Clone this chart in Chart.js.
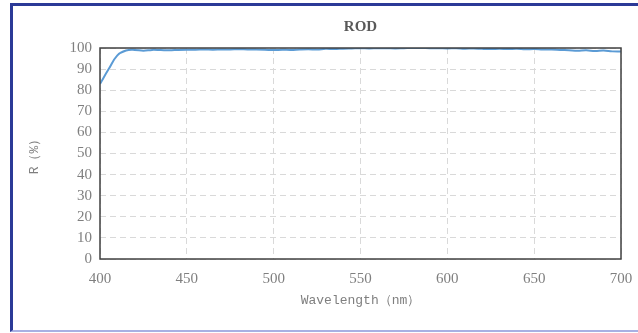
<!DOCTYPE html>
<html>
<head>
<meta charset="utf-8">
<script src="https://cdn.jsdelivr.net/npm/chart.js@4.4.0/dist/chart.umd.min.js"></script>
<style>
  html, body { margin: 0; padding: 0; background: #fff; }
  #wrap { position: relative; width: 638px; height: 333px; }
  #frame {
    position: absolute; left: 10px; top: 3px; right: 0; bottom: 1px;
    border-top: 3px solid #2b3a97; border-left: 3px solid #2b3a97;
    border-bottom: 2px solid #a9b0e3; pointer-events: none;
  }
</style>
</head>
<body>
<div id="wrap">
  <canvas id="myChart" width="638" height="333"></canvas>
  <div id="frame"></div>
</div>
<script>
// wavelength (nm) every 5 nm
const wavelengths = [
  400, 405, 410, 415, 420, 425, 430, 435, 440, 445,
  450, 455, 460, 465, 470, 475, 480, 485, 490, 495,
  500, 505, 510, 515, 520, 525, 530, 535, 540, 545,
  550, 555, 560, 565, 570, 575, 580, 585, 590, 595,
  600, 605, 610, 615, 620, 625, 630, 635, 640, 645,
  650, 655, 660, 665, 670, 675, 680, 685, 690, 695, 700
];
// reflectance R (%)
const reflectance = [
  83.0, 90.0, 96.5, 98.8, 99.1, 98.7, 99.1, 99.0, 98.9, 99.1,
  99.2, 99.2, 99.3, 99.2, 99.3, 99.3, 99.4, 99.3, 99.3, 99.2,
  99.0, 99.2, 99.1, 99.3, 99.4, 99.3, 99.6, 99.5, 99.7, 99.8,
  99.9, 99.8, 99.9, 99.9, 99.8, 99.9, 100.0, 100.0, 99.9, 99.9,
  99.8, 99.9, 99.7, 99.8, 99.6, 99.5, 99.6, 99.5, 99.6, 99.4,
  99.5, 99.3, 99.3, 99.1, 98.9, 98.7, 98.9, 98.6, 98.8, 98.4, 98.3
];
const chartTitle = "ROD";
const xTitle = "Wavelength（nm）";
const yTitle = "R（%）";

const points = wavelengths.map((w, i) => ({ x: w, y: reflectance[i] }));

const gray = "#7f7f7f";
const tickFont = { family: "Liberation Serif", size: 15 };
const titleFont = { family: "Liberation Mono", size: 13 };

// dark box round the plot area + title centred over the plot
const boxPlugin = {
  id: "box",
  afterDraw(chart) {
    const { ctx, chartArea: a } = chart;
    ctx.save();
    ctx.strokeStyle = "#404040";
    ctx.lineWidth = 1.5;
    ctx.strokeRect(a.left, a.top, a.right - a.left, a.bottom - a.top);
    ctx.fillStyle = "#595959";
    ctx.font = "bold 15px 'Liberation Serif'";
    ctx.textAlign = "center";
    ctx.textBaseline = "middle";
    ctx.fillText(chartTitle, (a.left + a.right) / 2, 27);
    ctx.restore();
  }
};

const ctx = document.getElementById("myChart").getContext("2d");
new Chart(ctx, {
  type: "line",
  data: {
    datasets: [{
      data: points,
      borderColor: "#5b9bd5",
      borderWidth: 2,
      pointRadius: 0,
      tension: 0.4,
      fill: false
    }]
  },
  options: {
    responsive: false,
    animation: false,
    layout: { padding: { left: 0, right: 17, top: 48, bottom: 0 } },
    plugins: {
      legend: { display: false },
      tooltip: { enabled: false },
      title: { display: false }
    },
    scales: {
      x: {
        type: "linear",
        min: 400,
        max: 700,
        afterFit: (s) => { s.height = 74; s.paddingRight = 0; s.paddingLeft = 0; },
        ticks: { stepSize: 50, color: gray, font: tickFont, padding: 11, maxRotation: 0 },
        grid: { color: "#d9d9d9", drawTicks: false, lineWidth: 1 },
        border: { display: false, dash: [6, 4] },
        title: { display: true, text: xTitle, color: gray, font: titleFont, padding: { top: 0, bottom: 25 } }
      },
      y: {
        min: 0,
        max: 100,
        afterFit: (s) => { s.width = 100; },
        ticks: { stepSize: 10, color: gray, font: tickFont, padding: 8 },
        grid: { color: "#d9d9d9", drawTicks: false, lineWidth: 1 },
        border: { display: false, dash: [6, 4] },
        title: { display: true, text: yTitle, color: gray, font: titleFont, padding: { top: 27, bottom: 0 } }
      }
    }
  },
  plugins: [boxPlugin]
});
</script>
</body>
</html>
